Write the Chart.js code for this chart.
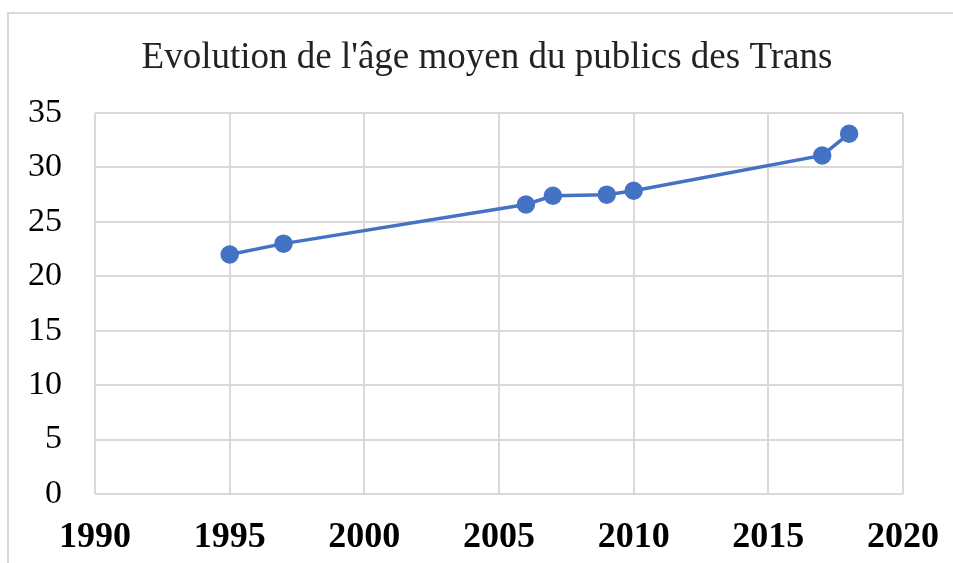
<!DOCTYPE html>
<html>
<head>
<meta charset="utf-8">
<script src="https://cdn.jsdelivr.net/npm/chart.js@4"></script>
<style>
  html, body { margin: 0; padding: 0; background: #fff; }
  #wrap { position: relative; width: 953px; height: 563px; }
  #frame { position: absolute; left: 7px; top: 12px; right: 0; bottom: 0;
           border-left: 2px solid #d9d9d9; border-top: 2px solid #d9d9d9; }
  canvas { position: absolute; left: 0; top: 0; }
</style>
</head>
<body>
<div id="wrap">
  <div id="frame"></div>
  <canvas id="c" width="953" height="563"></canvas>
</div>
<script>
const titleText = "Evolution de l'âge moyen du publics des Trans"
const years = [1995, 1997, 2006, 2007, 2009, 2010, 2017, 2018]
const ages = [22.0, 23.0, 26.6, 27.4, 27.5, 27.85, 31.1, 33.1]
const xTicks = [1990, 1995, 2000, 2005, 2010, 2015, 2020]
const yTicks = [0, 5, 10, 15, 20, 25, 30, 35]

const blue = "#4472c4"
const gridColor = "#d9d9d9"
const serif = "'Liberation Serif', 'Times New Roman', serif"

const points = years.map((y, i) => ({ x: y, y: ages[i] }))

const config = {
  type: "line",
  data: {
    datasets: [{
      data: points,
      borderColor: blue,
      backgroundColor: blue,
      borderWidth: 3.5,
      pointRadius: 7.5,
      pointHoverRadius: 7.5,
      tension: 0,
    }]
  },
  options: {
    responsive: false,
    animation: false,
    layout: { padding: { left: 20, right: 50, top: 0, bottom: 0 } },
    scales: {
      x: {
        type: "linear",
        min: xTicks[0],
        max: xTicks[xTicks.length - 1],
        afterBuildTicks(scale) { scale.ticks = xTicks.map(v => ({ value: v })) },
        afterFit(scale) {
          scale.height = 69
          scale.paddingLeft = 0
          scale.paddingRight = 0
        },
        grid: { color: gridColor, lineWidth: 2, drawTicks: false },
        border: { display: false },
        ticks: {
          padding: 22,
          maxRotation: 0,
          color: "#000",
          font: { family: serif, size: 36, weight: "bold" },
          callback: v => String(v),
        },
      },
      y: {
        min: yTicks[0],
        max: yTicks[yTicks.length - 1],
        afterBuildTicks(scale) { scale.ticks = yTicks.map(v => ({ value: v })) },
        afterFit(scale) {
          scale.width = 75
          scale.paddingTop = 0
          scale.paddingBottom = 0
        },
        grid: { color: gridColor, lineWidth: 2, drawTicks: false },
        border: { display: false },
        ticks: {
          padding: 33,
          color: "#000",
          font: { family: serif, size: 34 },
        },
      },
    },
    plugins: {
      legend: { display: false },
      tooltip: { enabled: false },
      title: {
        display: true,
        text: titleText,
        color: "#222",
        font: { family: serif, size: 37, weight: "normal" },
        padding: { top: 36, bottom: 32.6 },
      },
    },
  },
  plugins: [{
    // centre the title a bit to the right, as in the original
    id: "titleShift",
    afterLayout(chart) {
      const t = chart.titleBlock
      if (t) { t.left = 71; t.right = 903 }
    }
  }]
}

new Chart(document.getElementById("c"), config)
</script>
</body>
</html>
